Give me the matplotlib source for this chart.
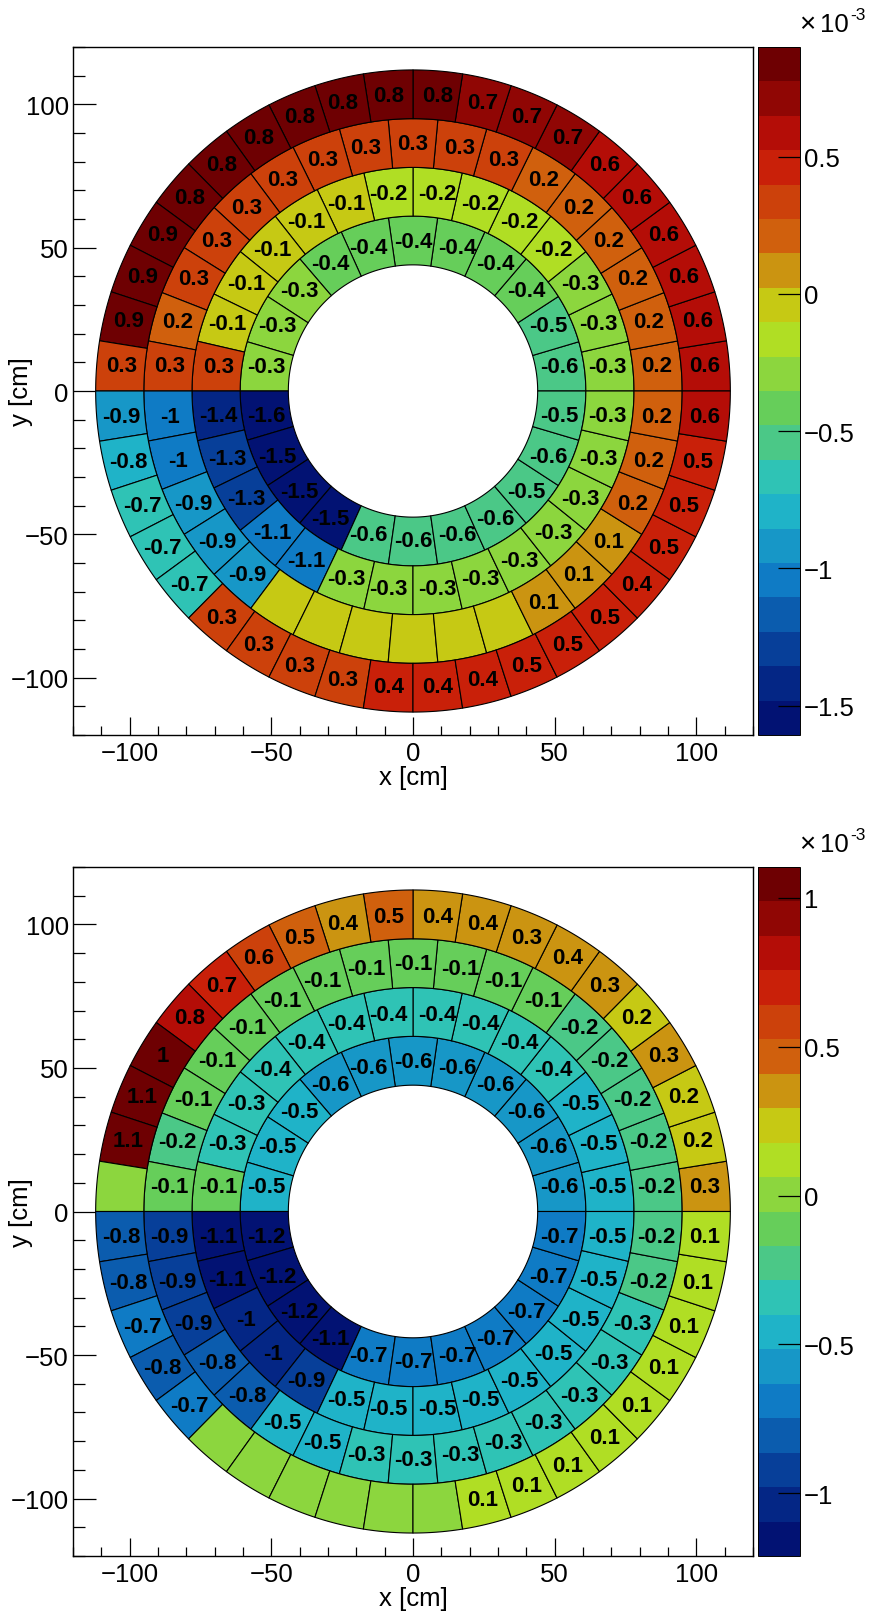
import numpy as np
import matplotlib
matplotlib.use("Agg")
import matplotlib.pyplot as plt
from matplotlib.patches import Polygon
from matplotlib.collections import PatchCollection
from matplotlib.colors import LinearSegmentedColormap, ListedColormap, Normalize
from matplotlib.ticker import MultipleLocator, FuncFormatter

plt.rcParams['font.family'] = ['Liberation Sans', 'DejaVu Sans']

# ring edges [cm] and number of sectors in each ring
radii = [44, 61, 78, 95, 112]
n_sectors = [22, 28, 34, 40]

# cell values (x 1e-3), sector 0 starts at +x and goes counter-clockwise
top_r1 = [-0.6, -0.5, -0.4, -0.4, -0.4, -0.4, -0.4, -0.4, -0.3, -0.3, -0.3,
          -1.6, -1.5, -1.5, -1.5, -0.6, -0.6, -0.6, -0.6, -0.5, -0.6, -0.5]
top_r2 = [-0.3, -0.3, -0.3, -0.2, -0.2, -0.2, -0.2, -0.2, -0.1, -0.1, -0.1, -0.1, -0.1, 0.3,
          -1.4, -1.3, -1.3, -1.1, -1.1, -0.3, -0.3, -0.3, -0.3, -0.3, -0.3, -0.3, -0.3, -0.3]
top_r3 = [0.2, 0.2, 0.2, 0.2, 0.2, 0.2, 0.3, 0.3, 0.3, 0.3, 0.3, 0.3, 0.3, 0.3, 0.3, 0.2, 0.3,
          -1, -1, -0.9, -0.9, -0.9, 0, 0, 0, 0, 0, 0, 0.1, 0.1, 0.1, 0.2, 0.2, 0.2]
top_r4 = [0.6, 0.6, 0.6, 0.6, 0.6, 0.6, 0.7, 0.7, 0.7, 0.8,
          0.8, 0.8, 0.8, 0.8, 0.8, 0.8, 0.9, 0.9, 0.9, 0.3,
          -0.9, -0.8, -0.7, -0.7, -0.7, 0.3, 0.3, 0.3, 0.3, 0.4,
          0.4, 0.4, 0.5, 0.5, 0.5, 0.4, 0.5, 0.5, 0.5, 0.6]
top_zrange = (-1.607, 0.899)
top_cticks = [-1.5, -1, -0.5, 0, 0.5]

bot_r1 = [-0.6, -0.6, -0.6, -0.6, -0.6, -0.6, -0.6, -0.6, -0.5, -0.5, -0.5,
          -1.2, -1.2, -1.2, -1.1, -0.7, -0.7, -0.7, -0.7, -0.7, -0.7, -0.7]
bot_r2 = [-0.5, -0.5, -0.5, -0.4, -0.4, -0.4, -0.4, -0.4, -0.4, -0.4, -0.4, -0.3, -0.3, -0.1,
          -1.1, -1.1, -1, -1, -0.9, -0.5, -0.5, -0.5, -0.5, -0.5, -0.5, -0.5, -0.5, -0.5]
bot_r3 = [-0.2, -0.2, -0.2, -0.2, -0.2, -0.1, -0.1, -0.1, -0.1, -0.1, -0.1, -0.1, -0.1, -0.1, -0.1, -0.2, -0.1,
          -0.9, -0.9, -0.9, -0.8, -0.8, -0.5, -0.5, -0.3, -0.3, -0.3, -0.3, -0.3, -0.3, -0.3, -0.3, -0.2, -0.2]
bot_r4 = [0.3, 0.2, 0.2, 0.3, 0.2, 0.3, 0.4, 0.3, 0.4, 0.4,
          0.5, 0.4, 0.5, 0.6, 0.7, 0.8, 1, 1.1, 1.1, 0,
          -0.8, -0.8, -0.7, -0.8, -0.7, 0, 0, 0, 0, 0,
          0, 0.1, 0.1, 0.1, 0.1, 0.1, 0.1, 0.1, 0.1, 0.1]
bot_zrange = (-1.211, 1.104)
bot_cticks = [-1, -0.5, 0, 0.5, 1]

# ROOT kRainBow palette, 20 contour bands
stops_rgb = np.array([[0, 0, 99], [5, 48, 142], [15, 124, 198], [35, 192, 201], [102, 206, 90],
                      [196, 226, 22], [208, 97, 13], [199, 16, 8], [110, 0, 2]]) / 255.0
rainbow = LinearSegmentedColormap.from_list("rainbow", stops_rgb, N=255)
ncont = 20
band_cols = [rainbow(int((i + 0.99) * 255 / ncont) / 254.0) for i in range(ncont)]
cmap20 = ListedColormap(band_cols)

W, H = 871, 1615
fig = plt.figure(figsize=(W / 100, H / 100), dpi=100)

FS = 18.5


def fmt_tick(v, pos):
    return ("%g" % v).replace("-", "\u2212")


def draw(ax, cax, rings, zlim, cticks, yexp):
    patches, vals = [], []
    for i, vr in enumerate(rings):
        n = n_sectors[i]
        r0, r1 = radii[i], radii[i + 1]
        for k, v in enumerate(vr):
            t = np.linspace(2 * np.pi * k / n, 2 * np.pi * (k + 1) / n, 16)
            xs = np.concatenate([r0 * np.cos(t), r1 * np.cos(t[::-1])])
            ys = np.concatenate([r0 * np.sin(t), r1 * np.sin(t[::-1])])
            patches.append(Polygon(np.column_stack([xs, ys]), closed=True))
            vals.append(v)
            if v != 0:
                ax.text((xs.min() + xs.max()) / 2, (ys.min() + ys.max()) / 2, "%.2g" % v,
                        ha='center', va='center', fontsize=16, fontweight='bold', zorder=3)
    pc = PatchCollection(patches, cmap=cmap20, norm=Normalize(*zlim),
                         edgecolor='black', linewidth=0.8, zorder=2)
    pc.set_array(np.array(vals))
    ax.add_collection(pc)

    ax.set_xlim(-120, 120)
    ax.set_ylim(-120, 120)
    ax.set_xticks([-100, -50, 0, 50, 100])
    ax.set_yticks([-100, -50, 0, 50, 100])
    ax.xaxis.set_minor_locator(MultipleLocator(10))
    ax.yaxis.set_minor_locator(MultipleLocator(10))
    ax.xaxis.set_major_formatter(FuncFormatter(fmt_tick))
    ax.yaxis.set_major_formatter(FuncFormatter(fmt_tick))
    ax.tick_params(axis='x', which='major', direction='in', length=13, width=0.9, labelsize=FS, pad=4)
    ax.tick_params(axis='x', which='minor', direction='in', length=6.7, width=0.9)
    ax.tick_params(axis='y', which='major', direction='in', length=16.5, width=0.9, labelsize=FS, pad=3)
    ax.tick_params(axis='y', which='minor', direction='in', length=8.6, width=0.9)
    ax.tick_params(top=False, right=False, which='both')
    for s in ax.spines.values():
        s.set_linewidth(1.0)
    ax.set_xlabel("x [cm]", fontsize=FS)
    ax.set_ylabel("y [cm]", fontsize=FS)
    ax.xaxis.set_label_coords(0.5, -0.044)
    ax.yaxis.set_label_coords(-0.059, 0.5)

    cb = fig.colorbar(pc, cax=cax)
    cb.set_ticks(cticks)
    cb.ax.yaxis.set_major_formatter(FuncFormatter(fmt_tick))
    cb.ax.minorticks_off()
    cb.outline.set_linewidth(0.7)
    cax.tick_params(direction='in', length=15.6, width=0.9, labelsize=FS, pad=3)

    # exponent label above the palette
    fig.text(799 / W, 1 - yexp / H, "\u00d7", fontsize=20, ha='left', va='baseline')
    fig.text(820 / W, 1 - yexp / H, "10", fontsize=FS, ha='left', va='baseline')
    fig.text(850 / W, 1 - (yexp - 12) / H, "-3", fontsize=12.5, ha='left', va='baseline')


ax1 = fig.add_axes([73 / W, 1 - 736 / H, 680 / W, 688 / H])
cax1 = fig.add_axes([757.5 / W, 1 - 736 / H, 42 / W, 688 / H])
draw(ax1, cax1, [top_r1, top_r2, top_r3, top_r4], top_zrange, top_cticks, 32)

ax2 = fig.add_axes([73 / W, 1 - 1557 / H, 680 / W, 689 / H])
cax2 = fig.add_axes([757.5 / W, 1 - 1557 / H, 42 / W, 689 / H])
draw(ax2, cax2, [bot_r1, bot_r2, bot_r3, bot_r4], bot_zrange, bot_cticks, 852)

fig.savefig("out.png", dpi=100)
